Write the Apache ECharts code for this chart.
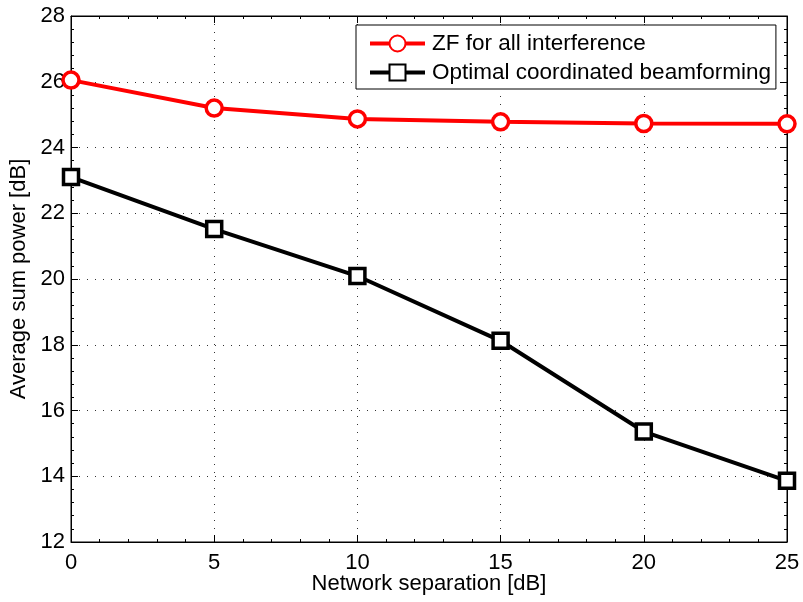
<!DOCTYPE html>
<html><head><meta charset="utf-8">
<script src="https://cdn.jsdelivr.net/npm/echarts@6/dist/echarts.min.js"></script>
<style>html,body{margin:0;padding:0;background:#fff}#c{width:803px;height:602px}</style>
</head><body><div id="c"></div>
<script>
const xCategories = [0, 5, 10, 15, 20, 25];
const zfValues = [26.05, 25.2, 24.87, 24.78, 24.73, 24.72];
const optValues = [23.1, 21.52, 20.09, 18.12, 15.36, 13.86];
const seriesNames = ['ZF for all interference', 'Optimal coordinated beamforming'];
const xTicks = [0, 5, 10, 15, 20, 25];
const yTicks = [12, 14, 16, 18, 20, 22, 24, 26, 28];

const font = 'Liberation Sans, Arial, Helvetica, sans-serif';
const fs = 22;
const chart = echarts.init(document.getElementById('c'), null, {renderer: 'canvas'});
const gridLine = {show: true, lineStyle: {color: '#333', width: 1, type: [1, 7]}};
const tickStyle = {show: true, inside: true, length: 7, lineStyle: {color: '#000'}};
const minorStyle = {show: true, splitNumber: 5, length: 3, lineStyle: {color: '#000'}};
chart.setOption({
  animation: false,
  backgroundColor: '#fff',
  grid: {left: 71, top: 16, width: 716, height: 526, outerBoundsMode: 'none', containLabel: false,
    show: true, borderColor: '#000', borderWidth: 1, backgroundColor: 'transparent'},
  xAxis: [{
    type: 'value', min: 0, max: 25, interval: 5,
    name: 'Network separation [dB]', nameLocation: 'middle', nameGap: 31, nameMoveOverlap: false,
    nameTextStyle: {fontFamily: font, fontSize: fs, color: '#000'},
    axisLine: {show: true, onZero: false, lineStyle: {color: '#000', width: 1}},
    axisTick: tickStyle, minorTick: minorStyle,
    axisLabel: {fontFamily: font, fontSize: fs, color: '#000', margin: 10,
      formatter: v => xTicks.includes(v) ? String(v) : ''},
    splitLine: gridLine
  }, {
    type: 'value', min: 0, max: 25, interval: 5, position: 'top',
    axisLine: {show: true, onZero: false, lineStyle: {color: '#000', width: 1}},
    axisTick: tickStyle, minorTick: minorStyle,
    axisLabel: {show: false}, splitLine: {show: false}
  }],
  yAxis: [{
    type: 'value', min: 12, max: 28, interval: 2,
    name: 'Average sum power [dB]', nameLocation: 'middle', nameGap: 40,
    nameTextStyle: {fontFamily: font, fontSize: fs, color: '#000'},
    axisLine: {show: true, onZero: false, lineStyle: {color: '#000', width: 1}},
    axisTick: tickStyle, minorTick: minorStyle,
    axisLabel: {fontFamily: font, fontSize: fs, color: '#000', margin: 6,
      formatter: v => yTicks.includes(v) ? String(v) : ''},
    splitLine: gridLine
  }, {
    type: 'value', min: 12, max: 28, interval: 2, position: 'right',
    axisLine: {show: true, onZero: false, lineStyle: {color: '#000', width: 1}},
    axisTick: tickStyle, minorTick: minorStyle,
    axisLabel: {show: false}, splitLine: {show: false}
  }],
  legend: {
    orient: 'vertical', left: 356, top: 25,
    backgroundColor: '#fff', borderColor: '#000', borderWidth: 1,
    padding: [7, 5, 5, 12], itemGap: 6, itemWidth: 55, itemHeight: 20,
    textStyle: {fontFamily: font, fontSize: 22.5, color: '#000', padding: [0, 0, 0, 2]},
    lineStyle: {width: 4},
    data: seriesNames
  },
  series: [
    {
      name: seriesNames[0], type: 'line', data: xCategories.map((x, i) => [x, zfValues[i]]),
      lineStyle: {color: '#ff0000', width: 4}, itemStyle: {color: '#fff', borderColor: '#ff0000', borderWidth: 3.5},
      symbol: 'circle', symbolSize: 16, color: '#ff0000', z: 3
    },
    {
      name: seriesNames[1], type: 'line', data: xCategories.map((x, i) => [x, optValues[i]]),
      lineStyle: {color: '#000', width: 4}, itemStyle: {color: '#fff', borderColor: '#000', borderWidth: 3.5},
      symbol: 'rect', symbolSize: 15, color: '#000', z: 3
    }
  ]
});
</script></body></html>
